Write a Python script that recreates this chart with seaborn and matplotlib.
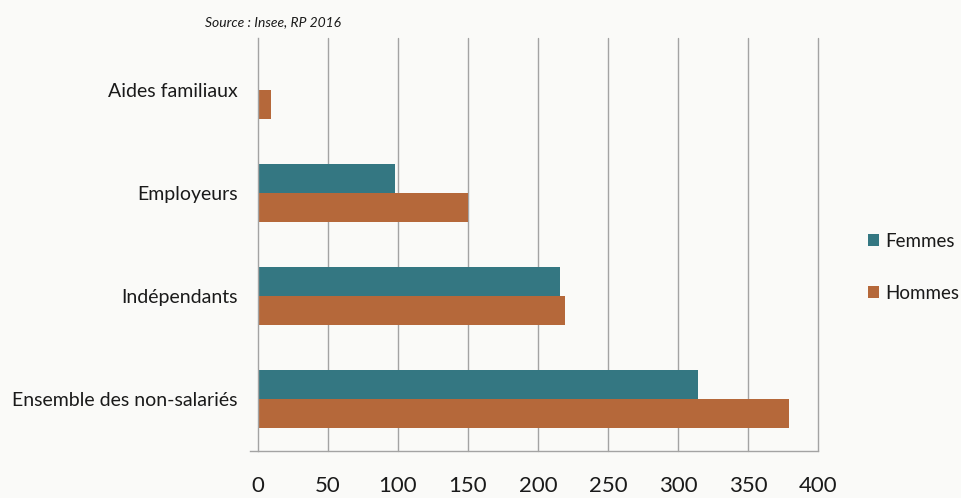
import matplotlib
matplotlib.use("Agg")
import matplotlib.pyplot as plt
import seaborn as sns
import pandas as pd
from matplotlib.ticker import FixedLocator

categories = ["Aides familiaux", "Employeurs", "Indépendants", "Ensemble des non-salariés"]
femmes = [0, 98, 216, 314]
hommes = [9, 150, 219, 379]
series = ["Femmes", "Hommes"]
colors = ["#347782", "#b5683a"]
x_ticks = [0, 50, 100, 150, 200, 250, 300, 350, 400]

df = pd.DataFrame({
    "categorie": categories * 2,
    "sexe": [series[0]] * len(categories) + [series[1]] * len(categories),
    "valeur": femmes + hommes,
})

sns.set_theme(style="white")
font = ["Lato", "DejaVu Sans"]
plt.rcParams["font.family"] = font

bg = "#fafaf8"
text_color = "#1a1a1a"
fig = plt.figure(figsize=(9.62, 4.98), dpi=100, facecolor=bg)
ax = fig.add_axes([0.2682, 0.0944, 0.5821, 0.8293], facecolor=bg)

sns.barplot(data=df, y="categorie", x="valeur", hue="sexe", order=categories,
            hue_order=series, palette=colors, orient="h", width=0.56,
            saturation=1, ax=ax, legend=True, linewidth=0)

ax.set_xlim(0, 400)
ax.set_ylim(len(categories) - 0.5, -0.5)
ax.set_xlabel("")
ax.set_ylabel("")

grid_color = "#a3a3a3"
ax.xaxis.set_major_locator(FixedLocator(x_ticks))
ax.set_xticklabels([str(t) for t in x_ticks], fontsize=16, color=text_color)
for t in x_ticks[1:]:
    ax.axvline(t, color=grid_color, lw=1.0, zorder=0, clip_on=False)
ax.tick_params(axis="x", which="major", direction="inout", length=12, width=1,
               color=grid_color, pad=12)

ax.tick_params(axis="y", which="major", length=0, labelsize=14, labelcolor=text_color, pad=14.5)
ax.yaxis.set_minor_locator(FixedLocator([i - 0.5 for i in range(len(categories) + 1)]))
ax.tick_params(axis="y", which="minor", direction="out", length=6, width=1, color=grid_color)

for side in ["top", "right"]:
    ax.spines[side].set_visible(False)
ax.spines["left"].set_color(grid_color)
ax.spines["bottom"].set_color(grid_color)
ax.spines["left"].set_linewidth(1)
ax.spines["bottom"].set_linewidth(1)
ax.spines["bottom"].set_bounds(-6, 400)

handles, labels = ax.get_legend_handles_labels()
ax.legend(handles, labels, loc="center left", bbox_to_anchor=(1.089, 0.445),
          frameon=False, fontsize=13.5, handlelength=0.6, handleheight=0.6,
          handletextpad=0.35, labelspacing=1.85, labelcolor=text_color,
          borderaxespad=0, borderpad=0)

fig.text(0.213, 0.955, "Source : Insee, RP 2016", fontsize=10, style="italic",
         color=text_color, ha="left", va="center", family=font)

fig.savefig("out.png", dpi=100, facecolor=bg)
